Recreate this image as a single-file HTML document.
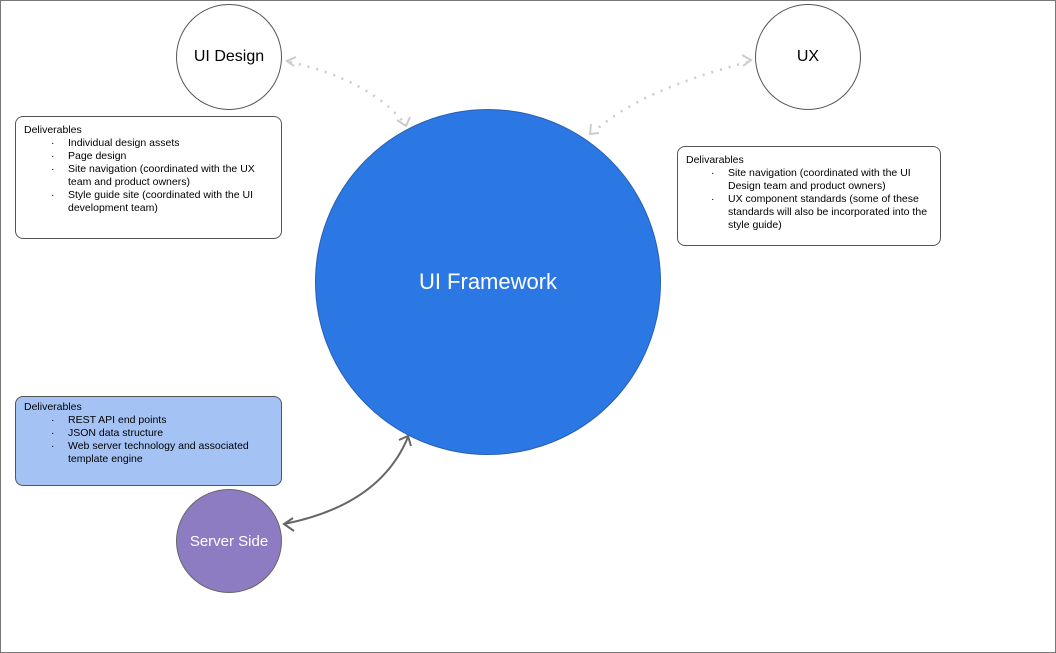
<!DOCTYPE html>
<html><head><style>
body{margin:0;width:1056px;height:653px;overflow:hidden;background:#fff;font-family:"Liberation Sans",sans-serif;}
.frame{position:absolute;left:0;top:0;width:1054px;height:651px;border:1px solid #777;}
.c{position:absolute;border-radius:50%;display:flex;align-items:center;justify-content:center;box-sizing:border-box;}
.box{position:absolute;border:1px solid #555;border-radius:8px;box-sizing:border-box;font-size:10.5px;line-height:13px;color:#000;padding:7px 8px;}
.box ul{margin:0;padding:0 0 0 44px;list-style:none;}
.box li{position:relative;}
.box li:before{content:"·";position:absolute;left:-17px;}
</style></head><body>
<div class="frame"></div>
<svg width="1056" height="653" style="position:absolute;left:0;top:0">
<path d="M290 62 Q370 80 405 124" stroke="#ccc" stroke-width="2.5" fill="none" stroke-dasharray="2 7"/>
<path d="M296 57 L287 61 L294 66" stroke="#ccc" stroke-width="2" fill="none"/>
<path d="M397 120 L406 126 L410 117" stroke="#ccc" stroke-width="2" fill="none"/>
<path d="M748 62 Q640 90 595 131" stroke="#ccc" stroke-width="2.5" fill="none" stroke-dasharray="2 7"/>
<path d="M742 55 L751 60 L743 66" stroke="#ccc" stroke-width="2" fill="none"/>
<path d="M591 124 L590 134 L599 133" stroke="#ccc" stroke-width="2" fill="none"/>
<path d="M284 524 Q380 505 408 437" stroke="#666" stroke-width="2" fill="none"/>
<path d="M293 518 L284 524 L294 531" stroke="#666" stroke-width="2" fill="none"/>
<path d="M399 440 L408 436 L411 446" stroke="#666" stroke-width="2" fill="none"/>
</svg>
<div class="c" style="left:176px;top:4px;width:106px;height:106px;border:1px solid #555;font-size:16px;">UI Design</div>
<div class="c" style="left:755px;top:4px;width:106px;height:106px;border:1px solid #555;font-size:16px;">UX</div>
<div class="c" style="left:315px;top:109px;width:346px;height:346px;background:#2b78e4;border:1px solid #2a5fb0;color:#fff;font-size:22px;">UI Framework</div>
<div class="c" style="left:176px;top:489px;width:106px;height:104px;background:#8e7cc3;border:1px solid #666;color:#fff;font-size:15px;">Server Side</div>
<div class="box" style="left:15px;top:116px;width:267px;height:123px;">Deliverables<ul><li>Individual design assets</li><li>Page design</li><li>Site navigation (coordinated with the UX team and product owners)</li><li>Style guide site (coordinated with the UI development team)</li></ul></div>
<div class="box" style="left:677px;top:146px;width:264px;height:100px;">Delivarables<ul style="padding-left:42px"><li>Site navigation (coordinated with the UI Design team and product owners)</li><li>UX component standards (some of these standards will also be incorporated into the style guide)</li></ul></div>
<div class="box" style="left:15px;top:396px;width:267px;height:90px;background:#a4c2f4;padding-top:4px;">Deliverables<ul><li>REST API end points</li><li>JSON data structure</li><li>Web server technology and associated template engine</li></ul></div>
</body></html>
